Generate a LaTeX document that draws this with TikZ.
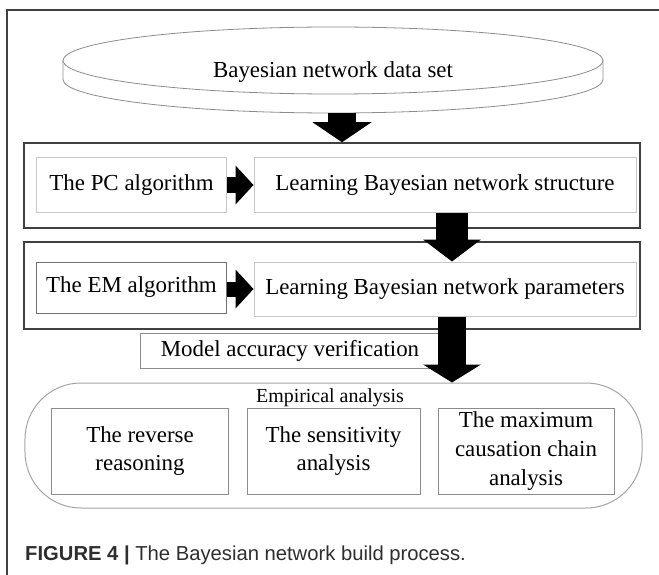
\documentclass[tikz,border=0pt]{standalone}
\usepackage{fontspec}
\setmainfont{Liberation Serif}
\newfontfamily\capfont{Liberation Sans}
\usetikzlibrary{arrows.meta}
\definecolor{framegray}{HTML}{404040}
\definecolor{lightbox}{HTML}{C8C8C8}
\definecolor{midbox}{HTML}{8C8C8C}
\definecolor{embox}{HTML}{707070}
\tikzset{
  frameln/.style={draw=framegray, line width=1.5bp},
  diskln/.style={draw=midbox, line width=0.8bp},
  outerbox/.style={draw=framegray, line width=1.5bp, inner sep=0pt},
  inbox/.style={draw=#1, line width=1bp, fill=white, inner sep=0pt, align=center,
    font=\fontsize{23}{29}\selectfont},
  lbl/.style={inner sep=0pt, align=center, font=\fontsize{23}{29}\selectfont},
  blockarrow/.style n args={3}{line width=#1, draw=black,
    -{Triangle[width=#2, length=#3, line width=0pt]}},
}
\begin{document}
\begin{tikzpicture}[x=1bp,y=-1bp]
\useasboundingbox (0,0) rectangle (659,575);
\draw[frameln] (659,10) -- (7,10) -- (7,575);

% data set disk
\draw[diskln, fill=white] (63,60.5) -- (63,79.5)
  arc[start angle=180, end angle=360, x radius=270bp, y radius=33.5bp] -- (603,60.5);
\draw[diskln, fill=white] (333,60.5) ellipse[x radius=270bp, y radius=33.5bp];
\node[lbl] (disk) at (333,72) {Bayesian network data set};
\coordinate (diskbot) at (342,113);

% structure learning block
\node[outerbox, minimum width=616bp, minimum height=85bp] (box1) at (332,185.5) {};
\node[inbox=lightbox, minimum width=189bp, minimum height=54bp] (pc) at (131.5,185) {The PC algorithm};
\node[inbox=lightbox, minimum width=382bp, minimum height=54bp] (struct) at (445,185) {Learning Bayesian network structure};
\draw[blockarrow={15bp}{39bp}{18bp}] (pc.east) -- (struct.west);

% parameter learning block
\node[outerbox, minimum width=616bp, minimum height=87bp] (box2) at (332,285.5) {};
\node[inbox=embox, minimum width=189bp, minimum height=51bp] (em) at (131.5,287.5) {The EM algorithm};
\node[inbox=lightbox, minimum width=382bp, minimum height=54bp] (params) at (445,289) {Learning Bayesian network parameters};
\draw[blockarrow={15bp}{39bp}{18bp}] (em.east |- params.west) -- (params.west);

% verification
\node[inbox=midbox, minimum width=300bp, minimum height=35bp] (model) at (290,350.5) {Model accuracy verification};

% empirical analysis
\node[draw=midbox!80, line width=1bp, rounded corners=56bp, minimum width=617bp, minimum height=125bp, inner sep=0pt] (emp) at (333.5,445.5) {};
\node[lbl, font=\fontsize{20}{24}\selectfont] (emplbl) at (330,398) {Empirical analysis};
\node[inbox=midbox, minimum width=176bp, minimum height=86bp] (ra) at (140,451) {The reverse\\reasoning};
\node[inbox=midbox, minimum width=173bp, minimum height=86bp] (sa) at (333.5,451) {The sensitivity\\analysis};
\node[inbox=midbox, minimum width=176bp, minimum height=86bp] (ca) at (526,451) {The maximum\\causation chain\\analysis};

% vertical block arrows
\coordinate (acol) at (452,0);
\draw[blockarrow={28bp}{59bp}{20bp}] (diskbot) -- (diskbot |- box1.north);
\draw[blockarrow={32bp}{58bp}{22bp}] (struct.south -| acol) -- (params.north -| acol);
\draw[blockarrow={28bp}{58bp}{18bp}] (params.south -| acol) -- (emp.north -| acol);

% caption
\node[anchor=west, inner sep=0pt, text=black!82, font=\capfont\fontsize{20.3}{24}\selectfont] (cap) at (25,555)
  {\textbf{FIGURE 4 |} The Bayesian network build process.};
\end{tikzpicture}
\end{document}
